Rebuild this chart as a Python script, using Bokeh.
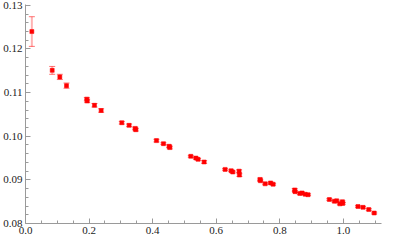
from bokeh.plotting import figure
from bokeh.models import ColumnDataSource, Whisker, TeeHead, FixedTicker, Range1d
from bokeh.embed import file_html
from bokeh.resources import INLINE

x_vals = [0.020, 0.084, 0.108, 0.129, 0.193, 0.194, 0.217, 0.238, 0.303, 0.326,
          0.345, 0.347, 0.412, 0.434, 0.452, 0.454, 0.520, 0.536, 0.543, 0.562,
          0.628, 0.647, 0.652, 0.672, 0.673, 0.738, 0.739, 0.754, 0.771, 0.779,
          0.847, 0.848, 0.863, 0.870, 0.880, 0.889, 0.956, 0.972, 0.979, 0.989,
          0.997, 0.998, 1.046, 1.062, 1.080, 1.097]
y_vals = [0.1240, 0.1151, 0.1136, 0.1116, 0.1085, 0.1081, 0.1071, 0.1059, 0.1031, 0.1025,
          0.1018, 0.1015, 0.0990, 0.0983, 0.0977, 0.0974, 0.0954, 0.0950, 0.0947, 0.0941,
          0.0924, 0.0921, 0.0918, 0.0920, 0.0911, 0.0901, 0.0898, 0.0891, 0.0893, 0.0890,
          0.0877, 0.0873, 0.0869, 0.0870, 0.0867, 0.0866, 0.0855, 0.0851, 0.0852, 0.0845,
          0.0850, 0.0846, 0.0839, 0.0837, 0.0832, 0.0824]
err_vals = [0.0034, 0.0009, 0.0006, 0.0006, 0.0004, 0.0004, 0.0004, 0.0004, 0.0003, 0.0003,
            0.0003, 0.0003, 0.0003, 0.0002, 0.0003, 0.0003, 0.0002, 0.0002, 0.0002, 0.0003,
            0.0002, 0.0002, 0.0002, 0.0003, 0.0003, 0.0003, 0.0002, 0.0002, 0.0002, 0.0002,
            0.0003, 0.0002, 0.0002, 0.0002, 0.0002, 0.0002, 0.0002, 0.0002, 0.0002, 0.0002,
            0.0002, 0.0002, 0.0002, 0.0002, 0.0002, 0.0002]

x_ticks = [0.0, 0.2, 0.4, 0.6, 0.8, 1.0]
x_tick_labels = ["0.0", "0.2", "0.4", "0.6", "0.8", "1.0"]
y_ticks = [0.08, 0.09, 0.10, 0.11, 0.12, 0.13]
y_tick_labels = ["0.08", "0.09", "0.10", "0.11", "0.12", "0.13"]

src = ColumnDataSource(dict(
    x=x_vals, y=y_vals,
    lo=[y - e for y, e in zip(y_vals, err_vals)],
    hi=[y + e for y, e in zip(y_vals, err_vals)],
))

p = figure(width=383, height=236, output_backend="svg", toolbar_location=None,
           x_range=Range1d(0, 1.12), y_range=Range1d(0.08, 0.1302),
           min_border_left=0, min_border_right=2, min_border_top=4, min_border_bottom=0)
p.outline_line_color = None
p.grid.visible = False
p.background_fill_color = "white"
p.border_fill_color = "white"

w = Whisker(source=src, base="x", lower="lo", upper="hi", dimension="height",
            line_color="#ff0000", line_alpha=0.3, line_width=2,
            lower_head=TeeHead(size=6, line_color="#ff0000", line_alpha=0.55, line_width=1),
            upper_head=TeeHead(size=6, line_color="#ff0000", line_alpha=0.55, line_width=1))
p.add_layout(w)
p.scatter("x", "y", source=src, marker="square", size=4, fill_color="#ff0000",
          line_color="#ff0000", line_width=0.5)

minor_x = [i * 0.05 for i in range(23) if i % 4 != 0]
minor_y = [0.08 + i * 0.002 for i in range(26) if i % 5 != 0]
p.xaxis.ticker = FixedTicker(ticks=x_ticks, minor_ticks=minor_x)
p.yaxis.ticker = FixedTicker(ticks=y_ticks, minor_ticks=minor_y)
p.xaxis.major_label_overrides = {t: l for t, l in zip(x_ticks, x_tick_labels)}
p.yaxis.major_label_overrides = {t: l for t, l in zip(y_ticks, y_tick_labels)}

for ax in (p.xaxis[0], p.yaxis[0]):
    ax.axis_line_color = "#9a9a9a"
    ax.axis_line_width = 1
    ax.major_tick_line_color = "#9a9a9a"
    ax.minor_tick_line_color = "#9a9a9a"
    ax.major_tick_in = 5
    ax.major_tick_out = 0
    ax.minor_tick_in = 3
    ax.minor_tick_out = 0
    ax.major_label_text_font = "'Liberation Serif', 'Times New Roman', serif"
    ax.major_label_text_font_size = "11px"
    ax.major_label_text_color = "#222222"
    ax.major_label_standoff = 3

open("out.html", "w").write(file_html(p, INLINE))
